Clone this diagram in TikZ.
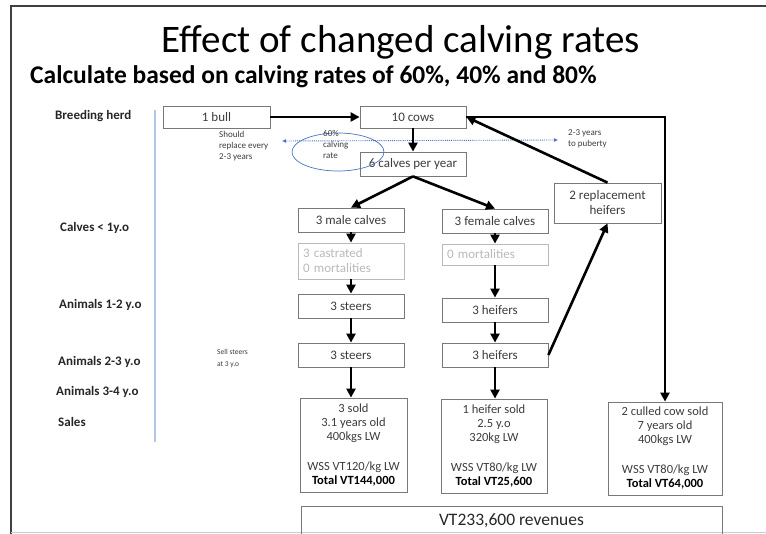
\documentclass[tikz,border=0pt]{standalone}
\usepackage{fontspec}
\setmainfont{Carlito}
\usetikzlibrary{arrows.meta,shapes.geometric}

\definecolor{boxgray}{RGB}{120,120,120}
\definecolor{txtgray}{RGB}{60,60,60}
\definecolor{fadegray}{RGB}{185,185,185}
\definecolor{lineblue}{RGB}{68,114,196}
\definecolor{paleblue}{RGB}{180,199,231}

\tikzset{
    herdbox/.style={draw=boxgray, line width=0.8pt, text=txtgray, minimum width=106,
        minimum height=24, inner sep=1pt, align=center, font=\fontsize{13}{15}\selectfont},
    fadebox/.style={herdbox, draw=fadegray, text=fadegray, align=left, text width=96},
    salebox/.style={herdbox, minimum height=94, font=\fontsize{12.5}{14}\selectfont},
    rowlabel/.style={anchor=west, font=\fontsize{13}{15}\selectfont\bfseries, text=black!85, inner sep=0pt},
    note/.style={anchor=north west, align=left, text=txtgray, inner sep=0pt, font=\fontsize{9}{11}\selectfont},
    flow/.style={line width=2.6pt, -{Triangle[length=9pt,width=9pt]}},
}

\begin{document}
\begin{tikzpicture}[x=1pt, y=-1pt]
    \useasboundingbox (0, 0) rectangle (766, 534);
    \clip (0, 0) rectangle (766, 534);

    % slide frame
    \draw[line width=2pt, black!75] (11, 534) -- (11, 6) -- (766, 6);
    \draw[gray!40] (11, 532.5) -- (766, 532.5);

    % headings
    \node (title) at (401, 42) {\fontsize{39}{44}\selectfont Effect of changed calving rates};
    \node[anchor=west, inner sep=0pt] (subtitle) at (30, 77)
        {\fontsize{25.5}{28}\selectfont\bfseries Calculate based on calving rates of 60\%, 40\% and 80\%};

    % row labels
    \node[rowlabel] (lherd) at (55, 116) {Breeding herd};
    \node[rowlabel] (lcalf) at (60, 228) {Calves < 1y.o};
    \node[rowlabel] (lone) at (59, 305) {Animals 1-2 y.o};
    \node[rowlabel] (ltwo) at (58, 362) {Animals 2-3 y.o};
    \node[rowlabel] (lthree) at (56, 392) {Animals 3-4 y.o};
    \node[rowlabel] (lsale) at (58, 422) {Sales};
    \draw[paleblue, line width=1.2pt] (155, 110) -- (155, 442);

    % breeding herd
    \node[herdbox, minimum width=107, minimum height=22] (bull) at (216.5, 117) {1 bull};
    \node[herdbox, minimum height=22] (cows) at (413, 117) {10 cows};
    \node[herdbox] (calves) at (413, 164) {6 calves per year};
    \node[note] (replace) at (219, 131) {Should\\replace every\\2-3 years};
    \node[draw=lineblue, line width=0.7pt, ellipse, minimum width=92, minimum height=38] (rate) at (338, 152) {};
    \node[note] (ratetxt) at (323, 130) {60\%\\calving\\rate};
    \coordinate (dotl) at (282, 141);
    \coordinate (dotr) at (558, 140);
    \draw[lineblue, densely dotted, line width=0.9pt, {Latex[length=4pt,width=4pt]}-{Latex[length=4pt,width=4pt]}] (dotl) -- (dotr);
    \node[note] (puberty) at (568, 129) {2-3 years\\to puberty};

    % calves
    \node[herdbox] (male) at (351, 220) {3 male calves};
    \node[herdbox] (female) at (495, 221) {3 female calves};
    \node[fadebox, minimum height=36] (castr) at (351, 261) {3 castrated\\0 mortalities};
    \node[fadebox, minimum height=21] (mort) at (495, 254.5) {0 mortalities};
    \node[herdbox, minimum width=107, minimum height=40] (repl) at (607.5, 203) {2 replacement\\heifers};

    % older animals
    \node[herdbox] (steersa) at (351, 306) {3 steers};
    \node[herdbox] (heifersa) at (495, 310) {3 heifers};
    \node[herdbox] (steersb) at (351, 355) {3 steers};
    \node[herdbox] (heifersb) at (495, 355) {3 heifers};
    \node[note, font=\fontsize{7.5}{12}\selectfont] (sell) at (217, 349) {Sell steers\\at 3 y.o};

    % sales
    \node[salebox, minimum width=107] (soldm) at (353.5, 445)
        {3 sold\\3.1 years old\\400kgs LW\\[16pt]WSS VT120/kg LW\\\textcolor{black}{\bfseries Total VT144,000}};
    \node[salebox] (soldf) at (494, 446)
        {1 heifer sold\\2.5 y.o\\320kg LW\\[16pt]WSS VT80/kg LW\\\textcolor{black}{\bfseries Total VT25,600}};
    \node[salebox, minimum width=114, minimum height=93] (culled) at (665, 448.5)
        {2 culled cow sold\\7 years old\\400kgs LW\\[16pt]WSS VT80/kg LW\\\textcolor{black}{\bfseries Total VT64,000}};
    \node[herdbox, minimum width=421, minimum height=30, font=\fontsize{17.5}{20}\selectfont, text=black!85] (revenue) at (511.5, 521)
        {VT233,600 revenues};

    % flows
    \draw[flow] (bull) -- (cows);
    \draw[flow] (cows) -- (calves);
    \draw[flow] (calves.south) -- (male.north);
    \draw[flow] (calves.south) -- (female.north);
    \draw[flow] (male) -- (castr);
    \draw[flow] (female) -- (mort);
    \draw[flow] (castr) -- (steersa);
    \draw[flow] (mort) -- (heifersa);
    \draw[flow] (steersa) -- (steersb);
    \draw[flow] (heifersa) -- (heifersb);
    \draw[flow] (steersb.south) -- (steersb.south |- soldm.north);
    \draw[flow] (heifersb.south) -- (heifersb.south |- soldf.north);
    \draw[flow] (heifersb.east) -- (repl.south);
    \draw[flow] (repl.north) -- (cows.east);
    \draw[flow] (cows.east) -| (culled.north);
\end{tikzpicture}
\end{document}
